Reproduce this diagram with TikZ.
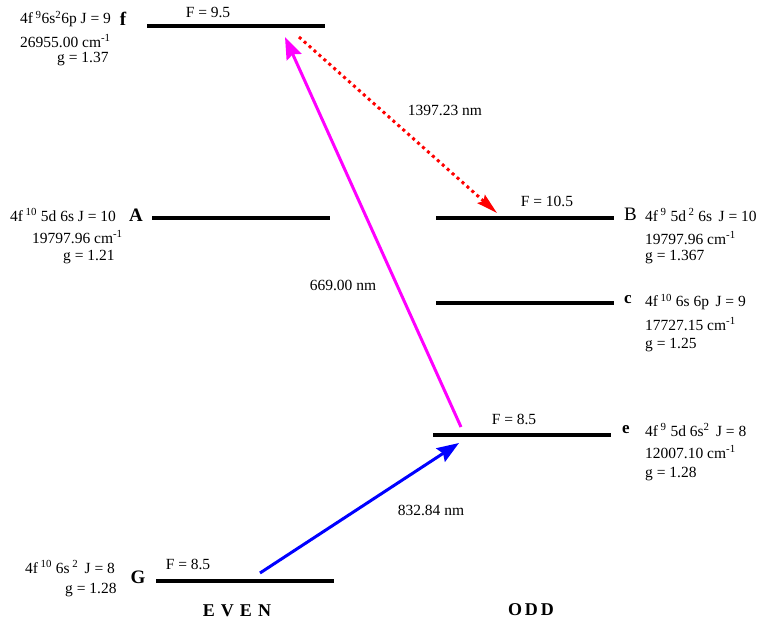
\documentclass[tikz,border=0pt]{standalone}
\usepackage{fontspec}
\setmainfont{Liberation Serif}
\usetikzlibrary{arrows.meta}
\definecolor{mag}{RGB}{255,0,255}
\definecolor{blu}{RGB}{0,0,255}
\definecolor{rd}{RGB}{255,0,0}
\begin{document}
\begin{tikzpicture}[x=1pt,y=-1pt,
  every node/.style={inner sep=0pt,font=\fontsize{15.5}{18}\selectfont},
  lvl/.style={fill=black,minimum height=4.8pt,minimum width=178pt,inner sep=0pt},
  txt/.style={anchor=west},
  big/.style={font=\fontsize{19}{21}\selectfont\bfseries},
  bigr/.style={font=\fontsize{19}{21}\selectfont},
  side/.style={font=\fontsize{17}{19}\selectfont\bfseries},
  arr/.style={line width=3pt,-{Stealth[length=22pt,width=16pt,inset=3pt]}}
]
\useasboundingbox (0,0) rectangle (761,625);
% levels
\node[lvl] (f) at (236,26) {};
\node[lvl] (A) at (240.5,218) {};
\node[lvl] (B) at (525,218) {};
\node[lvl] (c) at (525,303) {};
\node[lvl] (e) at (521.5,435) {};
\node[lvl] (G) at (244.5,581) {};
% F labels
\node (Ff) at (208,12) {F = 9.5};
\node (FB) at (547,201) {F = 10.5};
\node (Fe) at (514,419) {F = 8.5};
\node (FG) at (188,564) {F = 8.5};
% left texts f
\node[txt] (f1) at (20,19) {4f\,\textsuperscript{9}6s\textsuperscript{2}6p J = 9};
\node[big] (fl) at (123,19) {f};
\node[txt] (f2) at (20,41) {26955.00 cm\textsuperscript{-1}};
\node[txt] (f3) at (57,59) {g = 1.37};
% A
\node[txt] (A1) at (10,215) {4f\,\textsuperscript{10} 5d 6s J = 10};
\node[big] (Al) at (136,215) {A};
\node[txt] (A2) at (32,237) {19797.96 cm\textsuperscript{-1}};
\node[txt] (A3) at (63,257) {g = 1.21};
% B
\node[bigr,anchor=west] (Bl) at (624,214) {B};
\node[txt] (B1) at (645,215) {4f\,\textsuperscript{9} 5d\,\textsuperscript{2} 6s\, J = 10};
\node[txt] (B2) at (645,238) {19797.96 cm\textsuperscript{-1}};
\node[txt] (B3) at (645,257) {g = 1.367};
% c
\node[side,anchor=west] (cl) at (624,300) {c};
\node[txt] (c1) at (645,302) {4f\,\textsuperscript{10} 6s 6p\, J = 9};
\node[txt] (c2) at (645,324) {17727.15 cm\textsuperscript{-1}};
\node[txt] (c3) at (645,345) {g = 1.25};
% e
\node[side,anchor=west] (el) at (622,430) {e};
\node[txt] (e1) at (645,430) {4f\,\textsuperscript{9} 5d 6s\textsuperscript{2}\, J = 8};
\node[txt] (e2) at (645,452) {12007.10 cm\textsuperscript{-1}};
\node[txt] (e3) at (645,474) {g = 1.28};
% G
\node[txt] (G1) at (25,567) {4f\,\textsuperscript{10} 6s\,\textsuperscript{2}\, J = 8};
\node[txt] (G2) at (65,590) {g = 1.28};
\node[big] (Gl) at (138,577) {G};
% parity labels
\node[font=\fontsize{18}{20}\selectfont\bfseries] (even) at (237,611) {E\,\,V\,\,E\,\,N};
\node[font=\fontsize{18}{20}\selectfont\bfseries] (odd) at (531,610) {O\,D\,D};
% wavelengths
\node (w1) at (445,110) {1397.23 nm};
\node (w2) at (343,285) {669.00 nm};
\node (w3) at (431,510) {832.84 nm};
% arrow endpoints
\coordinate (bs) at (260,573);
\coordinate (be) at (459,443);
\coordinate (ms) at (461,427);
\coordinate (me) at (285,37);
\coordinate (rs) at (299,37);
\coordinate (re) at (497,213);
\draw[arr,blu] (bs) -- (be);
\draw[arr,mag] (ms) -- (me);
\draw[rd,line width=3pt,dash pattern=on 3pt off 3.6pt,-{Stealth[length=21pt,width=11pt,inset=3pt]}] (rs) -- (re);
\end{tikzpicture}
\end{document}
